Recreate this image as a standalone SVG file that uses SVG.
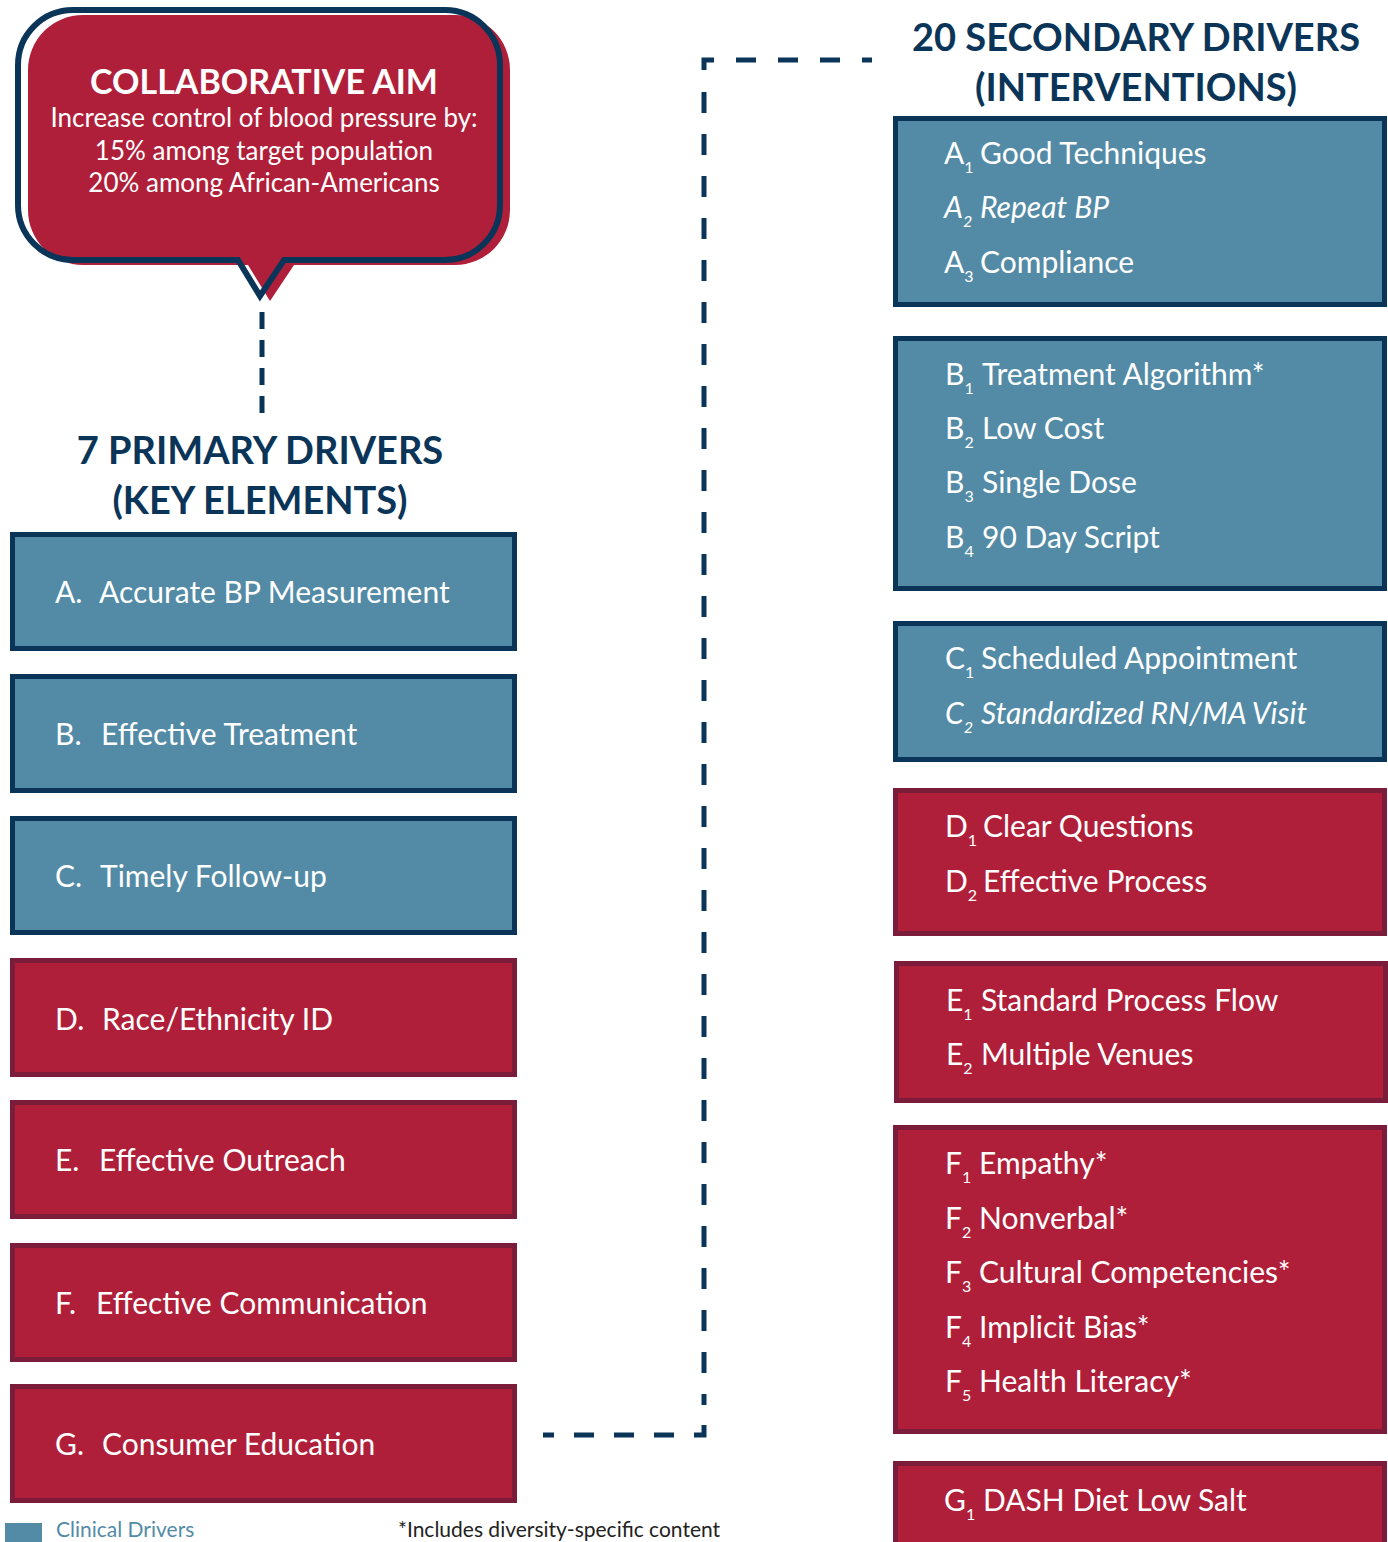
<svg xmlns="http://www.w3.org/2000/svg" width="1388" height="1542" viewBox="0 0 1388 1542">
<style>
text { font-family: Lato, "Noto Sans", sans-serif; }
.blue { fill: #538ba6; stroke: #0b3558; stroke-width: 5; }
.red { fill: #b01f3a; stroke: #7a1c3a; stroke-width: 5; }
.lbl { fill: #ffffff; font-size: 30px; }
.sub { font-size: 16px; }
.head { fill: #0b3558; font-size: 38px; font-weight: bold; text-anchor: middle; }
.dash { fill: none; stroke: #0b3558; stroke-width: 5; }
</style>
<rect width="1388" height="1542" fill="#ffffff"/>

<g id="aim">
  <path d="M 73 10 H 445 A 55 55 0 0 1 500 65 V 205 A 55 55 0 0 1 445 260 H 284 L 260 296 L 238 260 H 73 A 55 55 0 0 1 18 205 V 65 A 55 55 0 0 1 73 10 Z" fill="#b01f3a" transform="translate(10,5)"/>
  <path d="M 73 10 H 445 A 55 55 0 0 1 500 65 V 205 A 55 55 0 0 1 445 260 H 284 L 260 296 L 238 260 H 73 A 55 55 0 0 1 18 205 V 65 A 55 55 0 0 1 73 10 Z" fill="none" stroke="#0b3558" stroke-width="6"/>
  <text x="264" y="94" fill="#ffffff" font-size="34" font-weight="bold" text-anchor="middle">COLLABORATIVE AIM</text>
  <text x="264" y="127" fill="#ffffff" font-size="26" text-anchor="middle">Increase control of blood pressure by:</text>
  <text x="264" y="160" fill="#ffffff" font-size="26" text-anchor="middle">15% among target population</text>
  <text x="264" y="192" fill="#ffffff" font-size="26" text-anchor="middle">20% among African-Americans</text>
</g>

<g id="connectors">
  <path class="dash" d="M 262 312 V 416" stroke-dasharray="17 11"/>
  <path class="dash" d="M 704 70 V 60 H 872" stroke-dasharray="20 22"/>
  <path class="dash" d="M 704 92 V 1405" stroke-dasharray="21 21"/>
  <path class="dash" d="M 704 1425 V 1435 H 543" stroke-dasharray="20 20"/>
</g>

<g id="primary-heading">
  <text class="head" x="260" y="464">7 PRIMARY DRIVERS</text>
  <text class="head" x="260" y="514">(KEY ELEMENTS)</text>
</g>
<g id="secondary-heading">
  <text class="head" x="1136" y="51">20 SECONDARY DRIVERS</text>
  <text class="head" x="1136" y="101">(INTERVENTIONS)</text>
</g>

<g id="primary-A"><rect class="blue" x="12.5" y="534.5" width="502" height="114"/>
  <text class="lbl" x="55" y="603">A.</text><text class="lbl" x="99" y="603">Accurate BP Measurement</text></g>
<g id="primary-B"><rect class="blue" x="12.5" y="676.5" width="502" height="114"/>
  <text class="lbl" x="55" y="745">B.</text><text class="lbl" x="101" y="745">Effective Treatment</text></g>
<g id="primary-C"><rect class="blue" x="12.5" y="818.5" width="502" height="114"/>
  <text class="lbl" x="55" y="887">C.</text><text class="lbl" x="100" y="887">Timely Follow-up</text></g>
<g id="primary-D"><rect class="red" x="12.5" y="960.5" width="502" height="114"/>
  <text class="lbl" x="55" y="1030">D.</text><text class="lbl" x="102" y="1030">Race/Ethnicity ID</text></g>
<g id="primary-E"><rect class="red" x="12.5" y="1102.5" width="502" height="114"/>
  <text class="lbl" x="55" y="1171">E.</text><text class="lbl" x="99" y="1171">Effective Outreach</text></g>
<g id="primary-F"><rect class="red" x="12.5" y="1245.5" width="502" height="114"/>
  <text class="lbl" x="55" y="1314">F.</text><text class="lbl" x="96" y="1314">Effective Communication</text></g>
<g id="primary-G"><rect class="red" x="12.5" y="1386.5" width="502" height="114"/>
  <text class="lbl" x="55" y="1455">G.</text><text class="lbl" x="102" y="1455">Consumer Education</text></g>

<g id="secondary-A"><rect class="blue" x="895.5" y="118.5" width="489" height="186"/>
  <text class="lbl" x="944" y="164">A<tspan class="sub" dy="9">1</tspan><tspan x="980" dy="-9">Good Techniques</tspan></text>
  <text class="lbl" x="944" y="218" font-style="italic">A<tspan class="sub" dy="9">2</tspan><tspan x="980" dy="-9">Repeat BP</tspan></text>
  <text class="lbl" x="944" y="273">A<tspan class="sub" dy="9">3</tspan><tspan x="980" dy="-9">Compliance</tspan></text>
</g>
<g id="secondary-B"><rect class="blue" x="895.5" y="338.5" width="489" height="250"/>
  <text class="lbl" x="945" y="385">B<tspan class="sub" dy="9">1</tspan><tspan x="982" dy="-9">Treatment Algorithm*</tspan></text>
  <text class="lbl" x="945" y="439">B<tspan class="sub" dy="9">2</tspan><tspan x="982" dy="-9">Low Cost</tspan></text>
  <text class="lbl" x="945" y="493">B<tspan class="sub" dy="9">3</tspan><tspan x="982" dy="-9">Single Dose</tspan></text>
  <text class="lbl" x="945" y="548">B<tspan class="sub" dy="9">4</tspan><tspan x="982" dy="-9">90 Day Script</tspan></text>
</g>
<g id="secondary-C"><rect class="blue" x="895.5" y="623.5" width="489" height="136"/>
  <text class="lbl" x="945" y="669">C<tspan class="sub" dy="9">1</tspan><tspan x="981" dy="-9">Scheduled Appointment</tspan></text>
  <text class="lbl" x="945" y="724" font-style="italic">C<tspan class="sub" dy="9">2</tspan><tspan x="981" dy="-9">Standardized RN/MA Visit</tspan></text>
</g>
<g id="secondary-D"><rect class="red" x="895.5" y="790.5" width="489" height="143"/>
  <text class="lbl" x="945" y="837">D<tspan class="sub" dy="9">1</tspan><tspan x="983" dy="-9">Clear Questions</tspan></text>
  <text class="lbl" x="945" y="892">D<tspan class="sub" dy="9">2</tspan><tspan x="983" dy="-9">Effective Process</tspan></text>
</g>
<g id="secondary-E"><rect class="red" x="896.5" y="963.5" width="489" height="137"/>
  <text class="lbl" x="946" y="1011">E<tspan class="sub" dy="9">1</tspan><tspan x="981" dy="-9">Standard Process Flow</tspan></text>
  <text class="lbl" x="946" y="1065">E<tspan class="sub" dy="9">2</tspan><tspan x="981" dy="-9">Multiple Venues</tspan></text>
</g>
<g id="secondary-F"><rect class="red" x="895.5" y="1127.5" width="489" height="304"/>
  <text class="lbl" x="945" y="1174">F<tspan class="sub" dy="9">1</tspan><tspan x="979" dy="-9">Empathy*</tspan></text>
  <text class="lbl" x="945" y="1229">F<tspan class="sub" dy="9">2</tspan><tspan x="979" dy="-9">Nonverbal*</tspan></text>
  <text class="lbl" x="945" y="1283">F<tspan class="sub" dy="9">3</tspan><tspan x="979" dy="-9">Cultural Competencies*</tspan></text>
  <text class="lbl" x="945" y="1338">F<tspan class="sub" dy="9">4</tspan><tspan x="979" dy="-9">Implicit Bias*</tspan></text>
  <text class="lbl" x="945" y="1392">F<tspan class="sub" dy="9">5</tspan><tspan x="979" dy="-9">Health Literacy*</tspan></text>
</g>
<g id="secondary-G"><rect class="red" x="895.5" y="1463.5" width="489" height="110"/>
  <text class="lbl" x="944" y="1511">G<tspan class="sub" dy="9">1</tspan><tspan x="983" dy="-9">DASH Diet Low Salt</tspan></text>
</g>

<g id="legend">
  <rect x="5" y="1523" width="37" height="19" fill="#538ba6"/>
  <text x="56" y="1537" fill="#538ba6" font-size="21">Clinical Drivers</text>
  <text x="398" y="1537" fill="#222222" font-size="21">*Includes diversity-specific content</text>
</g>
</svg>
